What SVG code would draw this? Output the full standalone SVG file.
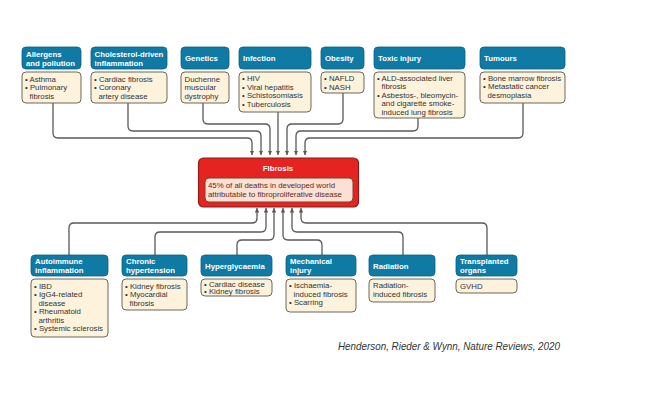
<svg xmlns="http://www.w3.org/2000/svg" width="662" height="408" viewBox="0 0 662 408">
<style>
.hd{fill:#0f7aa4;stroke:#0b5f80;stroke-width:0.8}
.bd{fill:#fdf2dc;stroke:#6f675d;stroke-width:1}
.ht{font-family:"Liberation Sans",Arial,sans-serif;font-size:7.8px;font-weight:bold;fill:#ffffff}
.bt{font-family:"Liberation Sans",Arial,sans-serif;font-size:7.8px;fill:#333333}
.cn{fill:none;stroke:#595959;stroke-width:1.3;marker-end:url(#ah)}
.ft{font-family:"Liberation Sans",Arial,sans-serif;font-size:7.8px;fill:#5b2b20}
</style>
<defs>
<marker id="ah" viewBox="0 0 10 10" refX="10" refY="5" markerWidth="4.5" markerHeight="4.5" markerUnits="userSpaceOnUse" orient="auto">
<path d="M0,0 L10,5 L0,10 z" fill="#595959"/>
</marker>
</defs>
<rect width="662" height="408" fill="#ffffff"/>

<g id="connectors">
<path class="cn" d="M53,103 V133 Q53,138 58,138 H247 Q252,138 252,143 V155"/>
<path class="cn" d="M128,103 V126 Q128,131 133,131 H256 Q261,131 261,136 V155"/>
<path class="cn" d="M203,103 V119 Q203,124 208,124 H265 Q270,124 270,129 V155"/>
<path class="cn" d="M278,112 V155"/>
<path class="cn" d="M343,93 V119 Q343,124 338,124 H292 Q287,124 287,129 V155"/>
<path class="cn" d="M418,118 V126 Q418,131 413,131 H301 Q296,131 296,136 V155"/>
<path class="cn" d="M523,103 V133 Q523,138 518,138 H310 Q305,138 305,143 V155"/>
<path class="cn" d="M69,255 V228 Q69,223 74,223 H252 Q257,223 257,218 V208"/>
<path class="cn" d="M155,255 V237 Q155,232 160,232 H261 Q266,232 266,227 V208"/>
<path class="cn" d="M237,255 V245 Q237,240 242,240 H269 Q274,240 274,235 V208"/>
<path class="cn" d="M322,255 V245 Q322,240 317,240 H288 Q283,240 283,235 V208"/>
<path class="cn" d="M403,255 V237 Q403,232 398,232 H297 Q292,232 292,227 V208"/>
<path class="cn" d="M487,255 V228 Q487,223 482,223 H306 Q301,223 301,218 V208"/>
</g>

<g id="allergens">
<rect class="hd" x="22" y="47" width="59" height="22" rx="4"/>
<text class="ht" x="26" y="57">Allergens</text>
<text class="ht" x="26" y="66">and pollution</text>
<rect class="bd" x="22" y="72" width="59" height="31" rx="4"/>
<text class="bt" x="25" y="81.5">• Asthma</text>
<text class="bt" x="25" y="90">• Pulmonary</text>
<text class="bt" x="29.5" y="98.5">fibrosis</text>
</g>

<g id="cholesterol">
<rect class="hd" x="91" y="47" width="76" height="22" rx="4"/>
<text class="ht" x="94.5" y="57">Cholesterol-driven</text>
<text class="ht" x="94.5" y="66">inflammation</text>
<rect class="bd" x="91" y="72" width="76" height="31" rx="4"/>
<text class="bt" x="94" y="81.5">• Cardiac fibrosis</text>
<text class="bt" x="94" y="90">• Coronary</text>
<text class="bt" x="98.5" y="98.5">artery disease</text>
</g>

<g id="genetics">
<rect class="hd" x="181" y="47" width="48" height="22" rx="4"/>
<text class="ht" x="185" y="61">Genetics</text>
<rect class="bd" x="181" y="72" width="48" height="31" rx="4"/>
<text class="bt" x="184.5" y="81.5">Duchenne</text>
<text class="bt" x="184.5" y="90">muscular</text>
<text class="bt" x="184.5" y="98.5">dystrophy</text>
</g>

<g id="infection">
<rect class="hd" x="239" y="47" width="72" height="22" rx="4"/>
<text class="ht" x="243" y="61">Infection</text>
<rect class="bd" x="239" y="72" width="72" height="40" rx="4"/>
<text class="bt" x="242" y="81">• HIV</text>
<text class="bt" x="242" y="89.5">• Viral hepatitis</text>
<text class="bt" x="242" y="98">• Schistosomiasis</text>
<text class="bt" x="242" y="106.5">• Tuberculosis</text>
</g>

<g id="obesity">
<rect class="hd" x="321" y="47" width="43" height="22" rx="4"/>
<text class="ht" x="325" y="61">Obesity</text>
<rect class="bd" x="321" y="72" width="43" height="21" rx="4"/>
<text class="bt" x="324" y="81">• NAFLD</text>
<text class="bt" x="324" y="89.5">• NASH</text>
</g>

<g id="toxic">
<rect class="hd" x="374" y="47" width="91" height="22" rx="4"/>
<text class="ht" x="378" y="61">Toxic injury</text>
<rect class="bd" x="374" y="72" width="91" height="46" rx="4"/>
<text class="bt" x="377" y="80.5">• ALD-associated liver</text>
<text class="bt" x="381.5" y="89">fibrosis</text>
<text class="bt" x="377" y="97.5">• Asbestos-, bleomycin-</text>
<text class="bt" x="381.5" y="106">and cigarette smoke-</text>
<text class="bt" x="381.5" y="114.5">induced lung fibrosis</text>
</g>

<g id="tumours">
<rect class="hd" x="480" y="47" width="85" height="22" rx="4"/>
<text class="ht" x="484" y="61">Tumours</text>
<rect class="bd" x="480" y="72" width="85" height="31" rx="4"/>
<text class="bt" x="483" y="80.5">• Bone marrow fibrosis</text>
<text class="bt" x="483" y="89">• Metastatic cancer</text>
<text class="bt" x="487.5" y="97.5">desmoplasia</text>
</g>

<g id="fibrosis">
<rect x="198.5" y="158" width="160" height="49" rx="5" fill="#e52421" stroke="#8a1f17" stroke-width="1.2"/>
<text x="278" y="171" text-anchor="middle" font-family="Liberation Sans, Arial, sans-serif" font-size="7.8" font-weight="bold" fill="#ffffff">Fibrosis</text>
<rect x="205" y="178" width="148" height="24" rx="4" fill="#fbe0d3" stroke="#7b3f30" stroke-width="1"/>
<text class="ft" x="208" y="188">45% of all deaths in developed world</text>
<text class="ft" x="208" y="197">attributable to fibroproliferative disease</text>
</g>

<g id="autoimmune">
<rect class="hd" x="31" y="255" width="77" height="21" rx="4"/>
<text class="ht" x="35" y="264">Autoimmune</text>
<text class="ht" x="35" y="273">inflammation</text>
<rect class="bd" x="31" y="279" width="77" height="58" rx="4"/>
<text class="bt" x="34" y="288.5">• IBD</text>
<text class="bt" x="34" y="297">• IgG4-related</text>
<text class="bt" x="38.5" y="305.5">disease</text>
<text class="bt" x="34" y="314">• Rheumatoid</text>
<text class="bt" x="38.5" y="322.5">arthritis</text>
<text class="bt" x="34" y="331">• Systemic sclerosis</text>
</g>

<g id="hypertension">
<rect class="hd" x="122" y="255" width="65" height="21" rx="4"/>
<text class="ht" x="126" y="264">Chronic</text>
<text class="ht" x="126" y="273">hypertension</text>
<rect class="bd" x="122" y="279" width="65" height="31" rx="4"/>
<text class="bt" x="125" y="288.5">• Kidney fibrosis</text>
<text class="bt" x="125" y="297">• Myocardial</text>
<text class="bt" x="129.5" y="305.5">fibrosis</text>
</g>

<g id="hyperglycaemia">
<rect class="hd" x="201" y="255" width="71" height="21" rx="4"/>
<text class="ht" x="205" y="268.5">Hyperglycaemia</text>
<rect class="bd" x="201" y="279" width="71" height="17" rx="4"/>
<text class="bt" x="204" y="286.5">• Cardiac disease</text>
<text class="bt" x="204" y="294">• Kidney fibrosis</text>
</g>

<g id="mechanical">
<rect class="hd" x="286" y="255" width="70" height="21" rx="4"/>
<text class="ht" x="290" y="264">Mechanical</text>
<text class="ht" x="290" y="273">injury</text>
<rect class="bd" x="286" y="279" width="70" height="33" rx="4"/>
<text class="bt" x="289" y="288">• Ischaemia-</text>
<text class="bt" x="293.5" y="296.5">induced fibrosis</text>
<text class="bt" x="289" y="305">• Scarring</text>
</g>

<g id="radiation">
<rect class="hd" x="369" y="255" width="66" height="21" rx="4"/>
<text class="ht" x="373" y="268.5">Radiation</text>
<rect class="bd" x="369" y="279" width="66" height="23" rx="4"/>
<text class="bt" x="373" y="288">Radiation-</text>
<text class="bt" x="373" y="296.5">induced fibrosis</text>
</g>

<g id="transplanted">
<rect class="hd" x="456" y="255" width="61" height="21" rx="4"/>
<text class="ht" x="460" y="264">Transplanted</text>
<text class="ht" x="460" y="273">organs</text>
<rect class="bd" x="456" y="279" width="61" height="14" rx="4"/>
<text class="bt" x="460" y="289">GVHD</text>
</g>

<text x="338" y="350" font-family="Liberation Sans, Arial, sans-serif" font-size="11" font-style="italic" fill="#333333" textLength="222" lengthAdjust="spacingAndGlyphs">Henderson, Rieder &amp; Wynn, Nature Reviews, 2020</text>
</svg>
